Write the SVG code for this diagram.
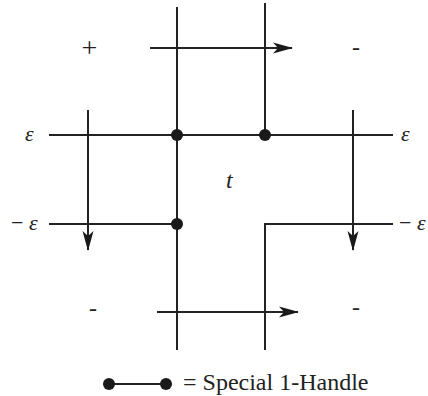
<svg xmlns="http://www.w3.org/2000/svg" width="428" height="396" viewBox="0 0 428 396">
<style>
.ln{stroke:#222;stroke-width:2;fill:none}
.ar{stroke:#222;stroke-width:2;fill:none;marker-end:url(#ah)}
.dot{fill:#1a1a1a}
.tx{font-family:"Liberation Serif","DejaVu Serif",serif;font-size:22px;fill:#222}
.it{font-style:italic}
</style>
<defs>
<marker id="ah" viewBox="0 0 20 12" refX="19" refY="6" markerWidth="20" markerHeight="12" orient="auto" markerUnits="userSpaceOnUse">
<path d="M20,6 L0,0.5 L5,6 L0,11.5 Z" fill="#1a1a1a"/>
</marker>
</defs>
<rect width="428" height="396" fill="#fff"/>
<g id="connectors">
<line class="ln" x1="177" y1="7" x2="177" y2="350"/>
<line class="ln" x1="265" y1="3" x2="265" y2="135"/>
<path class="ln" d="M393,224 H265 V350"/>
<line class="ln" x1="49" y1="135" x2="393" y2="135"/>
<line class="ln" x1="49" y1="224" x2="177" y2="224"/>
<line class="ar" x1="150" y1="48" x2="292" y2="48"/>
<line class="ar" x1="157" y1="312" x2="298" y2="312"/>
<line class="ar" x1="88" y1="110" x2="88" y2="250"/>
<line class="ar" x1="353" y1="110" x2="353" y2="250"/>
<line class="ln" x1="109" y1="384" x2="166" y2="384"/>
</g>
<g id="dot1"><circle class="dot" cx="177" cy="135" r="6"/></g>
<g id="dot2"><circle class="dot" cx="265" cy="135" r="6"/></g>
<g id="dot3"><circle class="dot" cx="177" cy="224" r="6"/></g>
<g id="legend-dots"><circle class="dot" cx="109" cy="384" r="6"/><circle class="dot" cx="166" cy="384" r="6"/></g>
<g id="labels">
<text class="tx" x="89.5" y="57" text-anchor="middle" style="font-size:28px">+</text>
<text class="tx" x="356" y="55" text-anchor="middle" style="font-size:24px">-</text>
<text class="tx" x="93" y="316" text-anchor="middle" style="font-size:24px">-</text>
<text class="tx" x="356" y="315" text-anchor="middle" style="font-size:24px">-</text>
<text class="tx it" x="25" y="141">ε</text>
<text class="tx it" x="401" y="141">ε</text>
<text class="tx" x="11" y="230">− <tspan class="it">ε</tspan></text>
<text class="tx" x="399" y="230">− <tspan class="it">ε</tspan></text>
<text class="tx it" x="226" y="188" style="font-size:24px">t</text>
<text class="tx" x="183" y="390" style="font-size:24px">= Special 1-Handle</text>
</g>
</svg>
